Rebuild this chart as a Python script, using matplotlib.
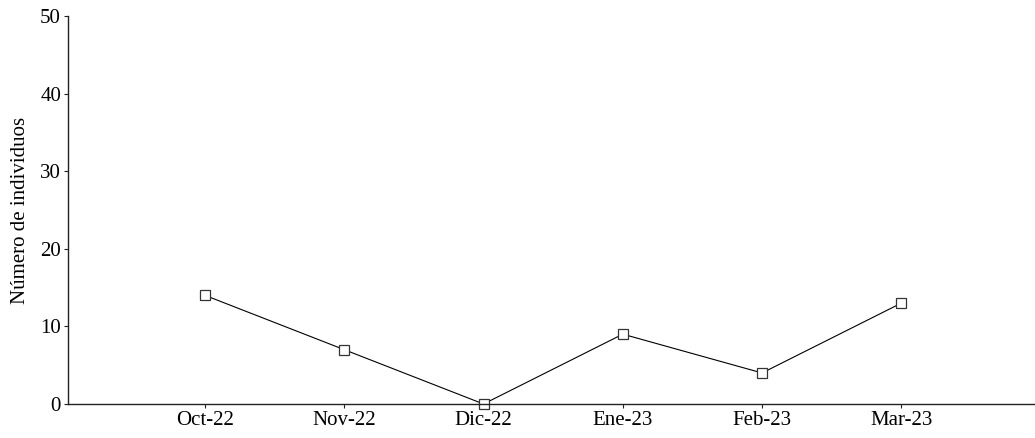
import matplotlib.pyplot as plt

meses = ["Oct-22", "Nov-22", "Dic-22", "Ene-23", "Feb-23", "Mar-23"]
individuos = [14, 7, 0, 9, 4, 13]

plt.rcParams['font.family'] = ['Liberation Serif', 'DejaVu Serif']
plt.rcParams['font.size'] = 15

fig = plt.figure(figsize=(10.35, 4.38), dpi=100)
ax = fig.add_axes([68 / 1035, 34 / 438, 1 - 68 / 1035, 388 / 438])

x = list(range(len(meses)))
ax.plot(x, individuos, color='black', linewidth=0.8, marker='s',
        markersize=6.5, markerfacecolor='white', markeredgecolor='#333333',
        markeredgewidth=0.9, clip_on=False)

ax.set_xlim(-0.984, 5.96)
ax.set_ylim(0, 50)
ax.set_xticks(x)
ax.set_xticklabels(meses)
ax.set_yticks(range(0, 51, 10))
ax.set_ylabel("Número de individuos", labelpad=7)

for side in ['top', 'right']:
    ax.spines[side].set_visible(False)
for side in ['left', 'bottom']:
    ax.spines[side].set_linewidth(1.0)
    ax.spines[side].set_color('#222222')
ax.tick_params(length=3, width=0.8, pad=2, colors='#222222', labelcolor='black')

fig.savefig("out.png", dpi=100)
